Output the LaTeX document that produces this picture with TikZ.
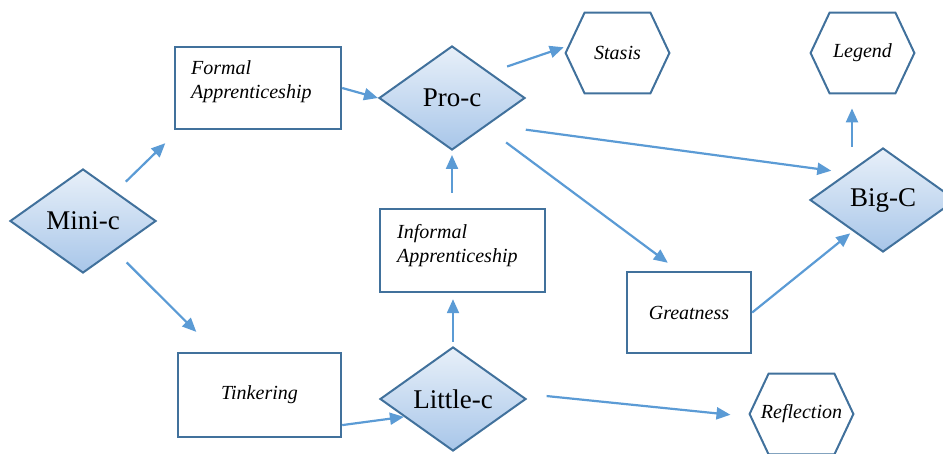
\documentclass[tikz,border=0pt]{standalone}
\usepackage{fontspec}
\setmainfont{Liberation Serif}
\usetikzlibrary{positioning,shapes.geometric,arrows.meta}

\definecolor{lineblue}{RGB}{91,155,213}
\definecolor{edgeblue}{RGB}{65,113,156}
\definecolor{topblue}{RGB}{232,240,249}
\definecolor{bottomblue}{RGB}{168,198,233}

\tikzset{
	level/.style={diamond, draw=edgeblue, line width=1pt, top color=topblue, bottom color=bottomblue, shape aspect=1.4, inner sep=0pt, minimum width=73pt, minimum height=52pt, font=\fontsize{13.5}{16}\selectfont},
	stage/.style={rectangle, draw=edgeblue, line width=1.2pt, fill=white, inner sep=0pt, font=\itshape\fontsize{10}{12}\selectfont},
	outcome/.style={rectangle, inner sep=0pt, minimum width=51.5pt, minimum height=40pt, font=\itshape\fontsize{10}{12}\selectfont,
		append after command={\pgfextra{\draw [edgeblue, line width=1pt] (\tikzlastnode.west) -- ([xshift=9.5pt]\tikzlastnode.north west) -- ([xshift=-9.5pt]\tikzlastnode.north east) -- (\tikzlastnode.east) -- ([xshift=-9.5pt]\tikzlastnode.south east) -- ([xshift=9.5pt]\tikzlastnode.south west) -- cycle;}}},
	stagetext/.style={anchor=north west, inner sep=0pt, align=left, font=\itshape\fontsize{10}{12}\selectfont},
	link/.style={draw=lineblue, line width=1.1pt, -{Triangle[length=7pt,width=6pt]}}
}

\begin{document}
\begin{tikzpicture}[on grid]
	\useasboundingbox (0,0) rectangle (471.5pt,-227pt);

	\node [level] (minic) at (41.5pt,-110.5pt) {Mini-c};
	\node [stage, minimum width=83pt, minimum height=41pt, above right=66.5pt and 87.5pt of minic] (formal) {};
	\node [stage, minimum width=81.5pt, minimum height=42pt, below right=87pt and 88.25pt of minic] (tinkering) {Tinkering};
	\node [level, below right=5pt and 97pt of formal] (proc) {Pro-c};
	\node [level, below right=2pt and 96.75pt of tinkering] (littlec) {Little-c};
	\node [stage, minimum width=82.5pt, minimum height=41.5pt, above right=74.25pt and 4.75pt of littlec] (informal) {};
	\node [stage, minimum width=62pt, minimum height=40.5pt, below right=31pt and 113.25pt of informal] (greatness) {Greatness};
	\node [outcome, above right=22.5pt and 82.75pt of proc] (stasis) {Stasis};
	\node [level, above right=56.25pt and 97pt of greatness] (bigc) {Big-C};
	\node [outcome, above left=73.5pt and 10.25pt of bigc] (legend) {Legend};
	\node [outcome, below right=7.5pt and 174.25pt of littlec] (reflection) {Reflection};

	\node [stagetext] (formaltext) at ([shift={(8.5pt,-7pt)}]formal.north west) {Formal\\Apprenticeship};
	\node [stagetext] (informaltext) at ([shift={(9pt,-8pt)}]informal.north west) {Informal\\Apprenticeship};

	\draw [link, shorten <=7pt, shorten >=9.3pt] (minic.42) -- (formal.-152.5);
	\draw [link, shorten <=8.1pt, shorten >=14.1pt] (minic.-43) -- (tinkering.135);
	\draw [link] (formal.east) -- (proc.west);
	\draw [link] (tinkering.-20) -- (littlec.-160);
	\draw [link, shorten <=2pt, shorten >=3pt] (littlec.north) -- (littlec.north |- informal.south);
	\draw [link, shorten <=7.5pt, shorten >=2pt] (proc.south |- informal.north) -- (proc.south);
	\draw [link, shorten <=9pt, shorten >=1pt] (proc.34) -- (stasis.173);
	\draw [link, shorten <=18.7pt, shorten >=7.9pt] (proc.-36) -- (bigc.143);
	\draw [link, shorten <=12.9pt, shorten >=6.7pt] (proc.-41) -- (greatness.104);
	\draw [link, shorten >=1.6pt] (greatness.east) -- (bigc.-134);
	\draw [link, shorten >=7.5pt] ([xshift=-15.5pt]bigc.north) -- ([xshift=-5.25pt]legend.south);
	\draw [link, shorten <=13.9pt, shorten >=9.6pt] (littlec.5) -- (reflection.-177);

\end{tikzpicture}
\end{document}
